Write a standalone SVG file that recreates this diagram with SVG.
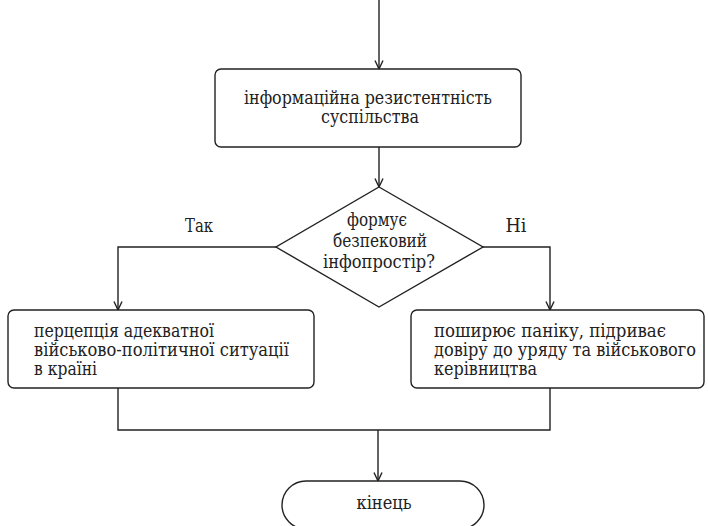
<svg xmlns="http://www.w3.org/2000/svg" width="708" height="526" viewBox="0 0 708 526">
<style>
.shape{fill:#fff;stroke:#222;stroke-width:1.4}
.conn{fill:none;stroke:#222;stroke-width:1.4}
.t{font-family:"DejaVu Serif Condensed","DejaVu Serif","Liberation Serif",serif;font-size:18px;fill:#222}
.c{text-anchor:middle}
</style>
<defs>
<marker id="arr" viewBox="0 0 10 10" refX="9.5" refY="5" markerWidth="10" markerHeight="10" markerUnits="userSpaceOnUse" orient="auto">
<path d="M1,1 L9.5,5 L1,9" fill="none" stroke="#222" stroke-width="1.4"/>
</marker>
</defs>
<g id="connectors">
<path class="conn" d="M379,0 V69" marker-end="url(#arr)"/>
<path class="conn" d="M379,147 V187" marker-end="url(#arr)"/>
<path class="conn" d="M276,247 H118 V310" marker-end="url(#arr)"/>
<path class="conn" d="M483,247 H550 V310" marker-end="url(#arr)"/>
<path class="conn" d="M118,388 V430 H550 V388"/>
<path class="conn" d="M378,430 V481" marker-end="url(#arr)"/>
<text class="t c" x="199" y="232" textLength="28" lengthAdjust="spacingAndGlyphs">Так</text>
<text class="t c" x="516" y="232" textLength="21" lengthAdjust="spacingAndGlyphs">Ні</text>
</g>
<g id="resistance">
<rect class="shape" x="215" y="69" width="306" height="78" rx="6"/>
<text class="t c" x="368" y="104" textLength="248" lengthAdjust="spacingAndGlyphs">інформаційна резистентність</text>
<text class="t c" x="370" y="123" textLength="98" lengthAdjust="spacingAndGlyphs">суспільства</text>
</g>
<g id="decision">
<polygon class="shape" points="379,187 483,247 379,307 276,247"/>
<text class="t c" x="377" y="226" textLength="60" lengthAdjust="spacingAndGlyphs">формує</text>
<text class="t c" x="380" y="247" textLength="94" lengthAdjust="spacingAndGlyphs">безпековий</text>
<text class="t c" x="379" y="268" textLength="112" lengthAdjust="spacingAndGlyphs">інфопростір?</text>
</g>
<g id="yes-box">
<rect class="shape" x="8" y="310" width="306" height="78" rx="6"/>
<text class="t" x="34" y="337" textLength="180" lengthAdjust="spacingAndGlyphs">перцепція адекватної</text>
<text class="t" x="34" y="356" textLength="255" lengthAdjust="spacingAndGlyphs">військово-політичної ситуації</text>
<text class="t" x="34" y="375" textLength="63" lengthAdjust="spacingAndGlyphs">в країні</text>
</g>
<g id="no-box">
<rect class="shape" x="411" y="310" width="293" height="78" rx="6"/>
<text class="t" x="434" y="337" textLength="232" lengthAdjust="spacingAndGlyphs">поширює паніку, підриває</text>
<text class="t" x="434" y="356" textLength="262" lengthAdjust="spacingAndGlyphs">довіру до уряду та військового</text>
<text class="t" x="434" y="375" textLength="103" lengthAdjust="spacingAndGlyphs">керівництва</text>
</g>
<g id="end">
<rect class="shape" x="282" y="481" width="202" height="48" rx="24"/>
<text class="t c" x="384" y="509" textLength="55" lengthAdjust="spacingAndGlyphs">кінець</text>
</g>
</svg>
